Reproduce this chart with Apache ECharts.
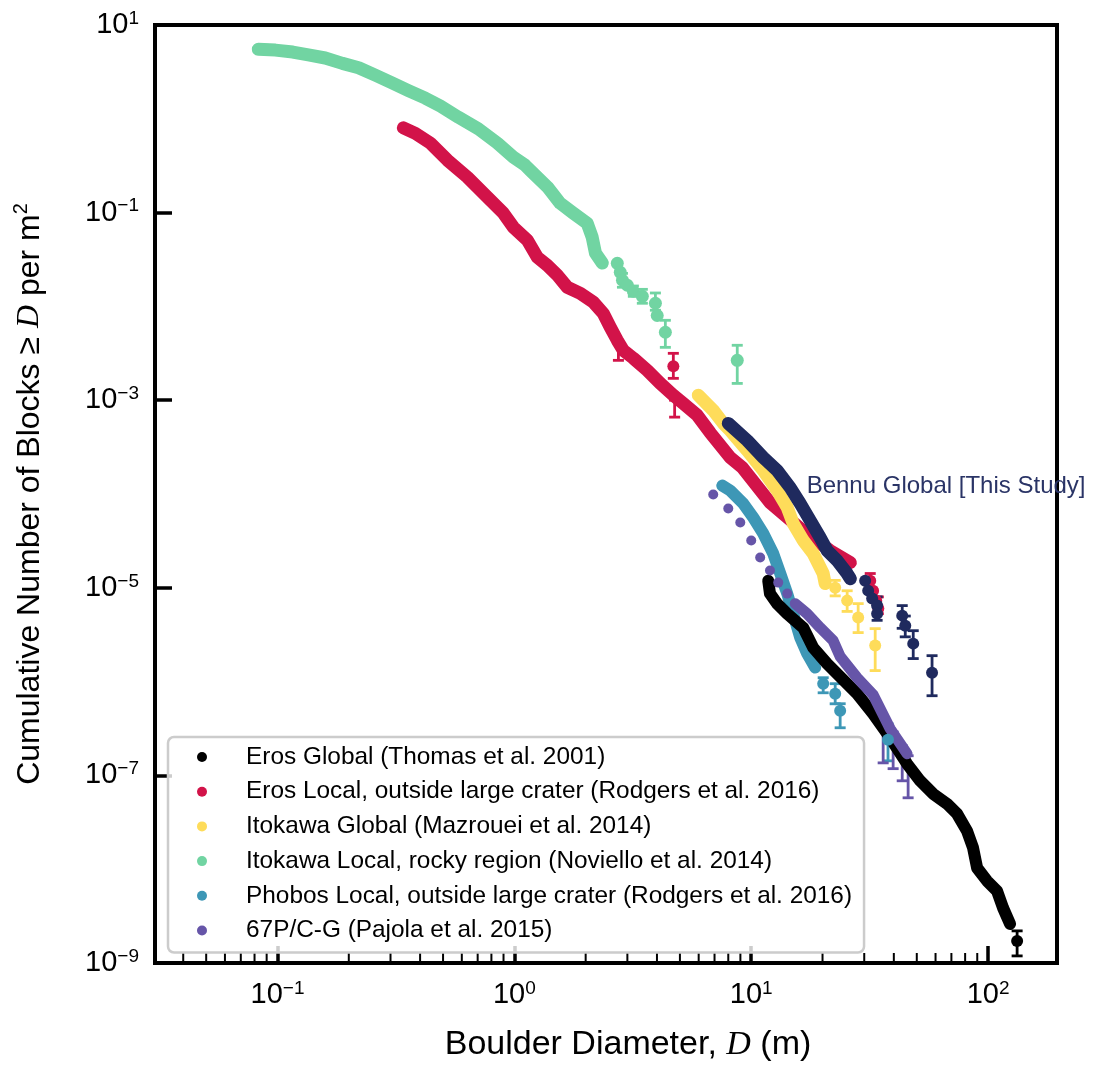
<!DOCTYPE html>
<html><head><meta charset="utf-8">
<script src="https://cdn.jsdelivr.net/npm/echarts@6/dist/echarts.min.js"></script>
<style>html,body{margin:0;padding:0;background:#fff}#c{width:1101px;height:1071px}</style>
</head><body><div id="c"></div>
<script>
// ---------- axis ranges (boulder diameter D in m, cumulative N per m^2) ----------
const X_MIN = 0.0304, X_MAX = 195.4;
const Y_MIN = 1e-9, Y_MAX = 10;
const MINOR_X_TICKS = [0.04,0.05,0.06,0.07,0.08,0.09,0.2,0.3,0.4,0.5,0.6,0.7,0.8,0.9,2,3,4,5,6,7,8,9,20,30,40,50,60,70,80,90];

const NAMES = [
  'Eros Global (Thomas et al. 2001)',
  'Eros Local, outside large crater (Rodgers et al. 2016)',
  'Itokawa Global (Mazrouei et al. 2014)',
  'Itokawa Local, rocky region (Noviello et al. 2014)',
  'Phobos Local, outside large crater (Rodgers et al. 2016)',
  '67P/C-G (Pajola et al. 2015)'
];

// ---------- data: [D, N] ; error bars: [D, Nlow, Nhigh] ----------
const ITOKAWA_LOCAL = [[0.083,5.5],[0.098,5.4],[0.116,5.15],[0.135,4.8],[0.159,4.45],[0.188,3.9],[0.22,3.5],[0.26,2.9],[0.306,2.4],[0.357,2.0],[0.421,1.66],[0.487,1.37],[0.58,1.04],[0.705,0.78],[0.848,0.55],[0.99,0.39],[1.11,0.32],[1.17,0.28],[1.38,0.187],[1.56,0.126],[1.77,0.099],[2.03,0.077],[2.13,0.055],[2.2,0.037],[2.35,0.029]];
const ITOKAWA_LOCAL_PTS = [[2.72,0.0288],[2.8,0.0231],[2.86,0.019],[3.0,0.0168],[3.18,0.0145],[3.47,0.0128],[3.94,0.0108],[4.01,0.008],[4.34,0.0053],[8.73,0.00266]];
const ITOKAWA_LOCAL_ERR = [[2.86,0.016,0.0225],[3.18,0.0128,0.0165],[3.47,0.0108,0.0152],[3.94,0.0091,0.0139],[4.34,0.00366,0.00711],[8.73,0.00151,0.00385]];

const EROS_LOCAL = [[0.34,0.8],[0.382,0.7],[0.442,0.55],[0.522,0.362],[0.633,0.239],[0.769,0.146],[0.899,0.0986],[0.99,0.07],[1.135,0.0507],[1.25,0.0334],[1.378,0.0274],[1.518,0.0215],[1.673,0.016],[1.899,0.0138],[2.154,0.0111],[2.375,0.0084],[2.541,0.006],[2.72,0.00435],[2.884,0.0034],[3.18,0.0028],[3.64,0.00208],[4.13,0.00151],[4.69,0.00113],[5.17,0.00092],[5.92,0.00069],[6.71,0.00045],[8.15,0.000245],[9.17,0.000192],[12.0,8.1e-5],[16.1,4.3e-5],[21.5,2.5e-5],[26.2,1.86e-5]];
const EROS_LOCAL_PTS = [[4.69,0.0023],[31.8,1.19e-5],[32.7,9.3e-6],[33.7,7.3e-6],[34.4,6.0e-6]];
const EROS_LOCAL_ERR = [[2.75,0.00266,0.00435],[4.69,0.00171,0.00316],[4.75,0.00066,0.001],[31.8,9e-6,1.42e-5],[34.4,5.3e-6,8e-6]];

const ITOKAWA_GLOBAL = [[5.98,0.00113],[6.91,0.00078],[7.62,0.000566],[8.15,0.000476],[9.62,0.000291],[11.24,0.000178],[12.87,0.000109],[14.19,7.2e-5],[15.04,4.84e-5],[16.58,3.19e-5],[18.26,2.32e-5],[20.13,1.42e-5],[20.52,1.11e-5]];
const ITOKAWA_GLOBAL_PTS = [[22.62,1.0e-5],[25.41,7.3e-6],[28.28,4.81e-6],[33.37,2.42e-6]];
const ITOKAWA_GLOBAL_ERR = [[22.62,8.2e-6,1.2e-5],[25.41,5.6e-6,9.3e-6],[28.28,3.33e-6,6.78e-6],[33.37,1.31e-6,3.67e-6]];

const PHOBOS_LOCAL = [[7.55,0.000123],[8.15,0.000109],[9.25,7.92e-5],[10.2,5.61e-5],[11.24,3.79e-5],[12.38,2.32e-5],[13.26,1.42e-5],[14.19,8.67e-6],[15.04,5.3e-6],[16.1,2.94e-6],[17.23,1.99e-6],[18.62,1.41e-6]];
const PHOBOS_LOCAL_PTS = [[20.13,9.5e-7],[22.62,7.43e-7],[23.74,4.89e-7],[37.8,2.4e-7]];
const PHOBOS_LOCAL_ERR = [[20.13,7.6e-7,1.1e-6],[22.62,5.8e-7,9.5e-7],[23.74,3.22e-7,5.81e-7],[37.8,1.43e-7,3.55e-7]];

const EROS_GLOBAL = [[11.8,1.19e-5],[12.0,8.67e-6],[12.87,6.78e-6],[14.19,5.3e-6],[16.58,3.76e-6],[18.26,2.3e-6],[20.93,1.55e-6],[23.74,1.128e-6],[28.0,7.43e-7],[32.7,4.54e-7],[38.6,2.52e-7],[45.5,1.33e-7],[51.66,8.76e-8],[58.6,6.36e-8],[67.1,4.98e-8],[74.0,3.89e-8],[81.5,2.56e-8],[86.4,1.69e-8],[89.9,1.03e-8],[99.0,7.5e-9],[109.1,5.87e-9],[115.7,3.86e-9],[123.8,2.61e-9]];
const EROS_GLOBAL_PTS = [[132.6,1.72e-9]];
const EROS_GLOBAL_ERR = [[132.6,1.19e-9,2.2e-9]];

const COMET_67P_PTS = [[6.91,9.88e-5],[8.0,7.0e-5],[8.99,4.96e-5],[10.0,3.19e-5],[10.91,2.1e-5],[12.0,1.53e-5],[13.0,1.136e-5],[14.19,8.67e-6]];
const COMET_67P = [[15.34,6.78e-6],[17.23,5.3e-6],[19.55,3.76e-6],[22.18,2.73e-6],[23.74,1.85e-6],[28.0,1.1e-6],[32.7,7.25e-7],[38.6,3.14e-7],[45.5,1.7e-7]];
const COMET_67P_ERR = [[36.06,1.36e-7,4.32e-7],[39.73,1.18e-7,2.9e-7],[43.4,8.76e-8,2.07e-7],[45.96,5.77e-8,1.62e-7]];

const BENNU = [[8.0,0.000566],[9.62,0.000372],[11.24,0.000245],[12.87,0.000178],[14.61,0.000117],[16.1,7.92e-5],[17.74,5.21e-5],[19.55,3.43e-5],[20.93,2.49e-5],[23.07,1.95e-5],[25.41,1.42e-5],[26.2,1.25e-5]];
const BENNU_PTS = [[30.27,1.19e-5],[31.17,9.33e-6],[32.4,7.67e-6],[34.0,6.46e-6],[34.0,5.3e-6],[43.4,5.05e-6],[44.7,3.95e-6],[48.3,2.54e-6],[58.0,1.245e-6]];
const BENNU_ERR = [[34.0,4.5e-6,8e-6],[43.4,3.7e-6,6.46e-6],[44.7,3.0e-6,5.0e-6],[48.3,1.76e-6,3.49e-6],[58.0,7.07e-7,1.89e-6]];
const BENNU_LABEL_ANCHOR = [17.06, 1.2e-4];

const COLORS = {
  erosGlobal:'#000000', erosLocal:'#D21349', itoGlobal:'#FEDC5A', itoLocal:'#71D4A2',
  phobos:'#3D97B6', comet:'#6655A8', bennu:'#1F2A5E'
};

// ---------- builders ----------
const L = v => Math.log10(v);
const toLog = a => a.map(p => [L(p[0]), L(p[1])]);
const toLogErr = a => a.map(p => [L(p[0]), L(p[1]), L(p[2])]);
const FONT = 'Liberation Sans';

function band(name, data, color, width) {
  return {type:'line', name, data:toLog(data), symbol:'none', silent:true,
    itemStyle:{color}, lineStyle:{color, width, cap:'round', join:'round'}, z:2};
}
function pts(name, data, color, size) {
  return {type:'scatter', name, data:toLog(data), symbolSize:size, silent:true,
    itemStyle:{color, opacity:1}, z:2};
}
function errs(name, data, color) {
  return {type:'custom', name, data:toLogErr(data), silent:true, z:2,
    encode:{x:0, y:[1,2]},
    renderItem:(params, api) => {
      const x = api.value(0);
      const lo = api.coord([x, api.value(1)]);
      const hi = api.coord([x, api.value(2)]);
      const hw = 5.5, st = {stroke:color, lineWidth:2.8};
      return {type:'group', children:[
        {type:'line', shape:{x1:lo[0],y1:lo[1],x2:hi[0],y2:hi[1]}, style:st},
        {type:'line', shape:{x1:lo[0]-hw,y1:lo[1],x2:lo[0]+hw,y2:lo[1]}, style:st},
        {type:'line', shape:{x1:hi[0]-hw,y1:hi[1],x2:hi[0]+hw,y2:hi[1]}, style:st}
      ]};
    }};
}

function expLabel(v) {
  const r = Math.round(v);
  if (Math.abs(v - r) > 1e-6) return '';
  return '{b|10}{s|' + (r < 0 ? '\u2212' : '') + Math.abs(r) + '}';
}
const tickRich = {
  b:{fontFamily:FONT, fontSize:29, color:'#000', lineHeight:32},
  s:{fontFamily:FONT, fontSize:19, color:'#000', verticalAlign:'top', lineHeight:19}
};

const series = [
  band(NAMES[3], ITOKAWA_LOCAL, COLORS.itoLocal, 13),
  errs('e_itoLocal', ITOKAWA_LOCAL_ERR, COLORS.itoLocal),
  pts(NAMES[3], ITOKAWA_LOCAL_PTS, COLORS.itoLocal, 13),

  band(NAMES[1], EROS_LOCAL, COLORS.erosLocal, 13),
  errs('e_erosLocal', EROS_LOCAL_ERR, COLORS.erosLocal),
  pts(NAMES[1], EROS_LOCAL_PTS, COLORS.erosLocal, 12),

  band(NAMES[2], ITOKAWA_GLOBAL, COLORS.itoGlobal, 13),
  errs('e_itoGlobal', ITOKAWA_GLOBAL_ERR, COLORS.itoGlobal),
  pts(NAMES[2], ITOKAWA_GLOBAL_PTS, COLORS.itoGlobal, 12),

  band(NAMES[4], PHOBOS_LOCAL, COLORS.phobos, 12),
  errs('e_phobos', PHOBOS_LOCAL_ERR, COLORS.phobos),
  pts(NAMES[4], PHOBOS_LOCAL_PTS, COLORS.phobos, 12),

  band(NAMES[0], EROS_GLOBAL, COLORS.erosGlobal, 12),
  errs('e_erosGlobal', EROS_GLOBAL_ERR, COLORS.erosGlobal),
  pts(NAMES[0], EROS_GLOBAL_PTS, COLORS.erosGlobal, 12),

  errs('e_comet', COMET_67P_ERR, COLORS.comet),
  band(NAMES[5], COMET_67P, COLORS.comet, 11),
  pts(NAMES[5], COMET_67P_PTS, COLORS.comet, 10),

  Object.assign(band('Bennu Global [This Study]', BENNU, COLORS.bennu, 13), {
    markPoint:{symbol:'circle', symbolSize:1, itemStyle:{color:'rgba(0,0,0,0)'}, silent:true,
      data:[{coord:[L(BENNU_LABEL_ANCHOR[0]), L(BENNU_LABEL_ANCHOR[1])]}],
      label:{show:true, position:'right', distance:0, formatter:'Bennu Global [This Study]',
        fontFamily:FONT, fontSize:24, color:'#2A3466'}}
  }),
  errs('e_bennu', BENNU_ERR, COLORS.bennu),
  pts('Bennu pts', BENNU_PTS, COLORS.bennu, 12),

  {type:'custom', name:'minorTicks', silent:true, z:3,
    data: MINOR_X_TICKS.map(v => [L(v), L(Y_MIN)]),
    encode:{x:0, y:1},
    renderItem:(params, api) => {
      const p = api.coord([api.value(0), api.value(1)]);
      return {type:'line', shape:{x1:p[0], y1:p[1], x2:p[0], y2:p[1]-10},
        style:{stroke:'#000', lineWidth:2}};
    }}
];

const option = {
  animation:false,
  backgroundColor:'#fff',
  textStyle:{fontFamily:FONT},
  grid:{left:155, right:44, top:25, bottom:108, show:true, borderColor:'#000', borderWidth:4, backgroundColor:'rgba(0,0,0,0)'},
  legend:{
    data:NAMES, orient:'vertical', left:168, top:737,
    padding:[8,12,10,29], itemWidth:20, itemHeight:10, itemGap:10.7,
    icon:'circle', selectedMode:false,
    backgroundColor:'rgba(255,255,255,0.8)', borderColor:'#cccccc', borderWidth:2.5, borderRadius:6,
    textStyle:{fontFamily:FONT, fontSize:24.4, color:'#000', lineHeight:24,
      rich:{t:{fontFamily:FONT, fontSize:24.4, color:'#000', lineHeight:24, padding:[0,0,0,29]}}},
    formatter: n => '{t|' + n + '}'
  },
  xAxis:{
    type:'value', min:L(X_MIN), max:L(X_MAX), minInterval:1, maxInterval:1,
    splitLine:{show:false}, axisLine:{show:false, onZero:false},
    axisTick:{show:true, inside:true, length:17, lineStyle:{color:'#000', width:3.5}},
    axisLabel:{margin:16, formatter:expLabel, rich:tickRich},
    name:'{a|Boulder Diameter, }{i|D}{a| (m)}', nameLocation:'middle', nameGap:62,
    nameTextStyle:{padding:[0,0,0,44], rich:{
      a:{fontFamily:FONT, fontSize:34, color:'#000', lineHeight:40},
      i:{fontFamily:'Liberation Serif', fontStyle:'italic', fontSize:34, color:'#000', lineHeight:40}}}
  },
  yAxis:{
    type:'value', min:L(Y_MIN), max:L(Y_MAX), interval:2,
    splitLine:{show:false}, axisLine:{show:false, onZero:false},
    axisTick:{show:true, inside:true, length:17, lineStyle:{color:'#000', width:3.5}},
    axisLabel:{margin:16, formatter:expLabel, rich:tickRich, showMinLabel:true, showMaxLabel:true},
    name:'{a|Cumulative Number of Blocks \u2265 }{i|D}{a| per m}{s|2}', nameLocation:'middle', nameRotate:90, nameGap:106,
    nameTextStyle:{rich:{
      a:{fontFamily:FONT, fontSize:32, color:'#000', lineHeight:38},
      i:{fontFamily:'Liberation Serif', fontStyle:'italic', fontSize:32, color:'#000', lineHeight:38},
      s:{fontFamily:FONT, fontSize:20, color:'#000', verticalAlign:'top', lineHeight:20}}}
  },
  series
};

const chart = echarts.init(document.getElementById('c'), null, {renderer:'canvas'});
chart.setOption(option);
</script>
</body></html>
